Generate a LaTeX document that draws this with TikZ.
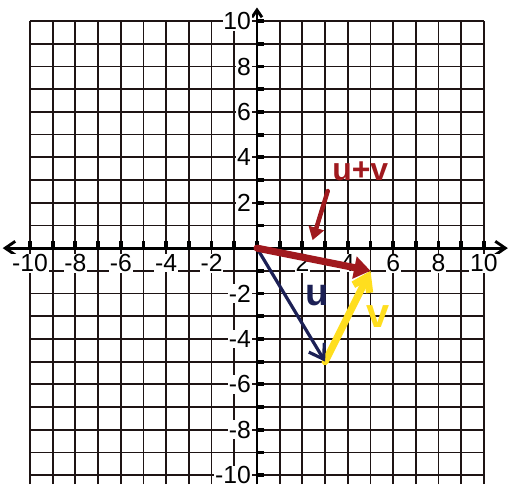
\documentclass[tikz,border=0pt]{standalone}
\usepackage{fontspec}
\setsansfont{Liberation Sans}
\definecolor{gpink}{RGB}{30,20,20}
\definecolor{gpred}{RGB}{160,25,30}
\definecolor{gpnavy}{RGB}{28,32,85}
\definecolor{gpyellow}{RGB}{255,222,30}
\usetikzlibrary{arrows.meta,positioning}

\begin{document}
\begin{tikzpicture}[x=0.5cm, y=0.5cm,
  gridline/.style={draw=gpink, line width=1.1pt},
  axisline/.style={draw=black, line width=1.8pt},
  axistick/.style={draw=black, line width=2.4pt},
  ticklabel/.style={fill=white, inner sep=0.5pt, font=\fontsize{15.5}{15.5}\selectfont\sffamily},
  veclabel/.style={inner sep=1pt, font=\fontsize{20}{20}\selectfont\sffamily\bfseries}]
  \path[fill=white] (-11.32,-10.40) rectangle (11.19,10.93);

  \draw[gridline, step=0.5cm] (-10,-10.4) grid (10,10);
  \foreach \k in {-10,...,10} {
    \draw[axistick] (\k,0) -- (\k,0.3);
    \draw[axistick] (0,\k) -- (0.3,\k);
  }
  \draw[axisline, {Straight Barb[length=2.2mm,width=3mm]}-{Straight Barb[length=2.2mm,width=3mm]}] (-11.2,0) -- (11.05,0);
  \draw[axisline, -{Straight Barb[length=1.6mm,width=2.2mm]}] (0,-10.4) -- (0,10.6);

  \foreach \k [count=\i] in {-10,-8,-6,-4,-2,2,4,6,8,10} {
    \node[ticklabel] (xl\i) at (\k,-0.66) {\k};
    \node[ticklabel, anchor=east] (yl\i) at (-0.22,\k) {\k};
  }

  \coordinate (O) at (0,0);
  \coordinate (U) at (3,-5);
  \coordinate (S) at (5,-1);

  \draw[draw=gpyellow, line width=4.5pt, line cap=round, -{Straight Barb[length=3mm,width=4mm]}] (U) -- (S);
  \draw[draw=gpnavy, line width=2pt, line cap=round, -{Straight Barb[length=3mm,width=4mm]}] (O) -- (U);
  \draw[draw=gpred, line width=4.4pt, line cap=round, -{Triangle[length=3.6mm,width=4.8mm]}] (O) -- (S);

  \node[veclabel, text=gpred] (lsum) at (4.55,3.4) {u+v};
  \coordinate (lsumtip) at (2.45,0.35);
  \draw[draw=gpred, line width=2.8pt, line cap=round, shorten <=2mm, -{Triangle[length=2.8mm,width=3.4mm]}] (lsum.south west) -- (lsumtip);

  \node[veclabel, text=gpnavy, font=\fontsize{24}{24}\selectfont\sffamily\bfseries] (lu) at (2.64,-2.07) {u};
  \node[veclabel, text=gpyellow, font=\fontsize{26}{26}\selectfont\sffamily\bfseries] (lv) at (5.35,-3.0) {v};
\end{tikzpicture}
\end{document}
